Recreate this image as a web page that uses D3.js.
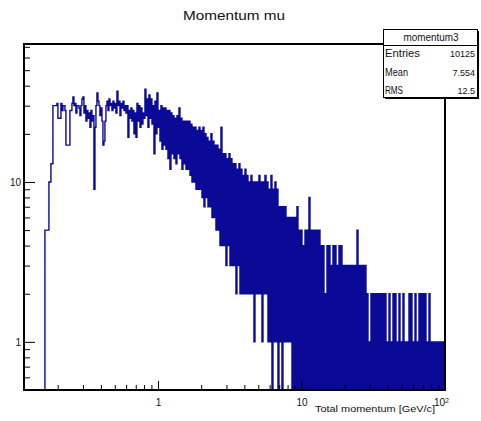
<!DOCTYPE html>
<html>
<head>
<meta charset="utf-8">
<script src="https://cdn.jsdelivr.net/npm/d3@7"></script>
<style>
  body { margin: 0; background: #fff; }
  text { font-family: "Liberation Sans", Arial, sans-serif; fill: #111; }
</style>
</head>
<body>
<div id="app"></div>
<script>
// Histogram "momentum3": narrow log-spaced bins from pStart to pEnd (GeV/c)
const pStart = 0.163, pEnd = 100;
const counts = [
  5,5, 5,5, 10,10, 13,13, 30,30, 30,30, 31,25, 25,25, 31,28, 30,30,
  28,17, 17,17, 17,28, 28,31, 34,30, 31,27, 30,30, 29,26, 30,33, 34,27,
  30,24, 28,25, 27,22, 28,24, 26,9, 22,30, 36,32, 30,26, 29,24, 17,18,
  24,30, 32,28, 33,30, 31,28, 32,29, 31,27, 37,30, 32,26, 31,29, 32,28,
  30,27, 30,19, 28,25, 29,24, 28,20, 27,19, 31,24, 30,22, 29,23, 27,25,
  38,26, 33,22, 35,25, 33,23, 30,15, 32,20, 36,22, 28,18, 30,16, 29,17,
  29,16, 28,14, 28,12, 27,15, 26,14, 25,13, 26,15, 29,14, 25,12, 24,13,
  24,12, 24,12, 24,11, 23,10, 22,10, 22,9, 21,9, 22,9, 21,8, 22,7,
  20,8, 19,7, 18,7, 20,6, 18,6, 17,5, 17,5, 16,4, 22,4, 15,4,
  15,3, 14,4, 15,3, 14,3, 13,3, 13,2, 12,3, 13,2, 12,2, 11,2,
  12,2, 11,2, 10,2, 11,2, 10,1, 10,2, 10,2, 11,2, 10,1, 10,2,
  11,2, 10,1, 9,1, 11,0, 9,1, 10,1, 9,0, 7,1, 7,0, 7,1,
  7,1, 6,1, 6,1, 6,0, 6,0, 6,0, 7,0, 5,0, 5,0, 4,0,
  5,0, 5,0, 8,0, 5,0, 5,0, 5,0, 5,0, 5,0, 4,0, 4,0,
  2,0, 4,0, 4,0, 3,0, 4,0, 4,0, 3,0, 4,0, 4,0, 3,0,
  3,0, 3,0, 3,0, 3,0, 3,0, 3,0, 5,0, 3,0, 3,0, 3,0,
  3,0, 2,0, 1,0, 2,0, 2,0, 2,0, 2,0, 2,0, 2,0, 2,0,
  2,0, 1,0, 2,0, 1,0, 2,0, 2,0, 1,0, 2,0, 1,0, 2,0,
  1,0, 1,0, 2,0, 2,0, 1,0, 2,0, 1,0, 2,0, 2,0, 2,0,
  2,0, 1,0, 2,0, 1,0, 1,0, 1,0, 1,0, 1,0, 1,0, 1,0
];

const xMajor = [1, 10, 100];
const xMinor = [0.2, 0.3, 0.4, 0.5, 0.6, 0.7, 0.8, 0.9, 2, 3, 4, 5, 6, 7, 8, 9, 20, 30, 40, 50, 60, 70, 80, 90];
const yMajor = [1, 10];
const yMinor = [0.6, 0.7, 0.8, 0.9, 2, 3, 4, 5, 6, 7, 8, 9, 20, 30, 40, 50, 60, 70];

const statsTitle = 'momentum3';
const statsNames = ['Entries', 'Mean', 'RMS'];
const statsValues = ['10125', '7.554', '12.5'];

const W = 481, H = 421;
const frame = {left: 24, top: 44, right: 445, bottom: 390};

const x = d3.scaleLog().domain([0.1165, 100]).range([frame.left, frame.right]);
const y = d3.scaleLog().domain([0.5, 72.9]).range([frame.bottom, frame.top]);

const svg = d3.select('#app').append('svg')
  .attr('width', W)
  .attr('height', H);

svg.append('defs').append('clipPath').attr('id', 'plot')
  .append('rect')
  .attr('x', frame.left).attr('y', frame.top)
  .attr('width', frame.right - frame.left).attr('height', frame.bottom - frame.top);

// histogram outline
const edges = d3.range(counts.length + 1).map(k => pStart * Math.pow(pEnd / pStart, k / counts.length));
const steps = [[edges[0], 0], ...counts.map((c, k) => [edges[k], c]), [edges[counts.length], 0]];

const line = d3.line()
  .x(d => x(d[0]))
  .y(d => y(Math.max(d[1], 0.35)))
  .curve(d3.curveStepAfter);

svg.append('path')
  .datum(steps)
  .attr('clip-path', 'url(#plot)')
  .attr('d', line)
  .attr('fill', 'none')
  .attr('stroke', '#0a0a96')
  .attr('stroke-width', 1.4);

// axes (ticks inside frame)
function clean(g) {
  g.select('.domain').remove();
  g.selectAll('line').attr('stroke', '#000');
}

svg.append('g')
  .attr('transform', `translate(0,${frame.bottom})`)
  .call(d3.axisBottom(x).tickValues(xMinor).tickSize(-5).tickFormat(''))
  .call(clean);

const xAxis = svg.append('g')
  .attr('transform', `translate(0,${frame.bottom})`)
  .call(d3.axisBottom(x).tickValues(xMajor).tickSize(-9).tickPadding(9).tickFormat(d3.format('d')))
  .call(clean);
xAxis.selectAll('text').attr('font-size', 10).attr('font-family', null).attr('fill', '#111');
xAxis.selectAll('.tick').filter(d => d === 100).select('text')
  .text(null)
  .attr('dx', -4)
  .call(t => {
    t.append('tspan').text('10');
    t.append('tspan').attr('dy', '-0.45em').attr('font-size', 7).text('2');
  });

svg.append('g')
  .attr('transform', `translate(${frame.left},0)`)
  .call(d3.axisLeft(y).tickValues(yMinor).tickSize(-6).tickFormat(''))
  .call(clean);

const yAxis = svg.append('g')
  .attr('transform', `translate(${frame.left},0)`)
  .call(d3.axisLeft(y).tickValues(yMajor).tickSize(-11).tickPadding(3).tickFormat(d3.format('d')))
  .call(clean);
yAxis.selectAll('text').attr('font-size', 10).attr('font-family', null).attr('fill', '#111');

// frame
svg.append('rect')
  .attr('x', frame.left).attr('y', frame.top)
  .attr('width', frame.right - frame.left).attr('height', frame.bottom - frame.top)
  .attr('fill', 'none')
  .attr('stroke', '#000')
  .attr('stroke-width', 2);

// axis title
svg.append('text')
  .attr('x', 315).attr('y', 412)
  .attr('font-size', 9)
  .attr('textLength', 120).attr('lengthAdjust', 'spacingAndGlyphs')
  .text('Total momentum [GeV/c]');

// title
svg.append('text')
  .attr('x', 183).attr('y', 20)
  .attr('font-size', 13)
  .attr('textLength', 102).attr('lengthAdjust', 'spacingAndGlyphs')
  .text('Momentum mu');

// stats box
const box = {x: 383.5, y: 29.5, w: 94, h: 68};
svg.append('rect')
  .attr('x', box.x + 1.5).attr('y', box.y + 1.5)
  .attr('width', box.w).attr('height', box.h)
  .attr('fill', '#000');
svg.append('rect')
  .attr('x', box.x).attr('y', box.y)
  .attr('width', box.w).attr('height', box.h)
  .attr('fill', '#fff')
  .attr('stroke', '#000')
  .attr('stroke-width', 1);
svg.append('line')
  .attr('x1', box.x).attr('x2', box.x + box.w)
  .attr('y1', 45.5).attr('y2', 45.5)
  .attr('stroke', '#000');

svg.append('text')
  .attr('x', 431).attr('y', 41)
  .attr('text-anchor', 'middle')
  .attr('font-size', 10)
  .attr('textLength', 55).attr('lengthAdjust', 'spacingAndGlyphs')
  .text(statsTitle);

const rowY = [57, 76, 94];
const nameW = [35, 23, 18];
statsNames.forEach((name, i) => {
  svg.append('text')
    .attr('x', 385).attr('y', rowY[i])
    .attr('font-size', 10.5)
    .attr('textLength', nameW[i]).attr('lengthAdjust', 'spacingAndGlyphs')
    .text(name);
  svg.append('text')
    .attr('x', 475).attr('y', rowY[i])
    .attr('text-anchor', 'end')
    .attr('font-size', 9)
    .text(statsValues[i]);
});
</script>
</body>
</html>
